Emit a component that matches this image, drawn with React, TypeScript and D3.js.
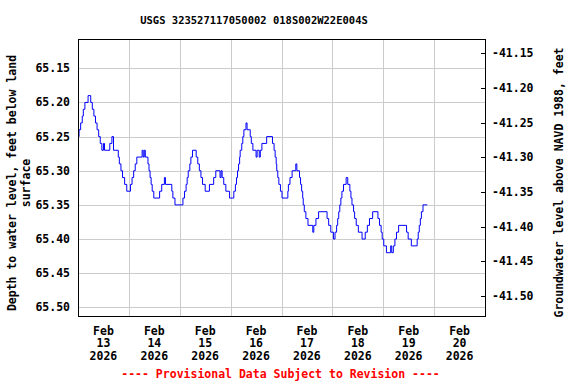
import React from 'react';
import * as d3 from 'd3';

const title = 'USGS 323527117050002 018S002W22E004S';
const leftLabel = ['Depth to water level, feet below land', 'surface'];
const rightLabel = 'Groundwater level above NAVD 1988, feet';
const footer = '---- Provisional Data Subject to Revision ----';

// hours after 2026-02-13 00:00 where the reading changes, and the new reading
const hours = [
  0, 0.5, 1.25, 2, 2.5, 3.25, 4.75, 6, 6.75, 7.5, 8.25, 9, 9.75, 10.5, 11.25, 12, 12.5, 15, 16, 16.75,
  19, 19.5, 20.25, 21, 22, 23, 24.75, 25.5, 26.25, 27, 27.75, 30.25, 30.75, 31.25, 31.75, 33, 33.5, 34, 34.5, 35,
  35.75, 38.5, 39.5, 40.75, 41.25, 44.25, 44.75, 45.75, 46.75, 49.5, 50.25, 51, 51.5, 52, 52.75, 53.25, 54, 55.75, 56.5, 57.25,
  58, 58.75, 60, 62, 64, 65, 67, 67.5, 68, 68.75, 69.75, 71.5, 73.5, 74.25, 74.75, 75.25, 75.75, 76.25, 76.5, 77.25,
  77.75, 78.25, 79.25, 79.75, 81.25, 81.75, 82.5, 84, 84.5, 85.5, 86, 86.75, 89, 91.75, 92.5, 93, 93.5, 93.75, 94.25, 94.75,
  95.5, 96.25, 99, 99.25, 100, 101, 102.75, 103.25, 104.5, 105, 105.5, 106, 106.25, 106.75, 107.5, 108.5, 110.75, 111.25, 112.25, 113.5,
  117.5, 118.25, 119.25, 120.5, 121.25, 122, 122.5, 123, 123.5, 124, 124.5, 125.25, 126.5, 127.25, 128.25, 128.75, 129.25, 130, 130.5, 131.25,
  132.25, 134, 135.5, 136.5, 137.5, 139, 141.5, 142.25, 143, 143.5, 144.25, 145.5, 147.5, 148, 148.75, 149.5, 150.25, 151.25, 155, 155.75,
  157.25, 160, 160.5, 161, 161.5, 162, 162.75, 164.75,
];
const depths = [
  65.25, 65.24, 65.23, 65.22, 65.21, 65.20, 65.19, 65.20, 65.21, 65.22, 65.23, 65.24, 65.25, 65.26, 65.27, 65.26, 65.27, 65.26, 65.25, 65.27,
  65.28, 65.29, 65.30, 65.31, 65.32, 65.33, 65.32, 65.31, 65.30, 65.29, 65.28, 65.27, 65.28, 65.27, 65.28, 65.29, 65.30, 65.31, 65.32, 65.33,
  65.34, 65.33, 65.32, 65.31, 65.32, 65.33, 65.34, 65.35, 65.35, 65.34, 65.33, 65.32, 65.31, 65.30, 65.29, 65.28, 65.27, 65.28, 65.29, 65.30,
  65.31, 65.32, 65.33, 65.32, 65.31, 65.30, 65.31, 65.30, 65.31, 65.32, 65.33, 65.34, 65.33, 65.32, 65.31, 65.30, 65.29, 65.28, 65.27, 65.26,
  65.25, 65.24, 65.23, 65.24, 65.25, 65.26, 65.27, 65.28, 65.27, 65.28, 65.27, 65.26, 65.25, 65.26, 65.27, 65.28, 65.29, 65.30, 65.31, 65.32,
  65.33, 65.34, 65.33, 65.32, 65.31, 65.30, 65.29, 65.30, 65.31, 65.32, 65.33, 65.34, 65.35, 65.36, 65.37, 65.38, 65.39, 65.38, 65.37, 65.36,
  65.37, 65.38, 65.39, 65.40, 65.39, 65.38, 65.37, 65.36, 65.35, 65.34, 65.33, 65.32, 65.31, 65.32, 65.33, 65.34, 65.35, 65.36, 65.37, 65.38,
  65.39, 65.40, 65.39, 65.38, 65.37, 65.36, 65.37, 65.38, 65.39, 65.40, 65.41, 65.42, 65.41, 65.42, 65.41, 65.40, 65.39, 65.38, 65.39, 65.40,
  65.41, 65.40, 65.39, 65.38, 65.37, 65.36, 65.35, 65.35,
];

const depthTicks = [65.15, 65.2, 65.25, 65.3, 65.35, 65.4, 65.45, 65.5];
const elevTicks = [-41.15, -41.2, -41.25, -41.3, -41.35, -41.4, -41.45, -41.5];
const days = ['13', '14', '15', '16', '17', '18', '19', '20'];

const W = 576;
const H = 384;
const left = 78;
const right = 485;
const top = 39;
const bottom = 316;
const font = '"DejaVu Sans Mono", monospace';

const App = () => {
  const t0 = new Date(2026, 1, 13);
  const t1 = new Date(2026, 1, 21);
  const x = d3.scaleTime().domain([t0, t1]).range([left, right]);
  const y = d3.scaleLinear().domain([65.1071, 65.5127]).range([top, bottom]);
  const yR = d3.scaleLinear().domain([-41.1291, -41.5289]).range([top, bottom]);

  const pts = hours.map((h, i) => ({ t: d3.timeMinute.offset(t0, Math.round(h * 60)), v: depths[i] }));
  const line = d3.line<{ t: Date; v: number }>()
    .x(d => x(d.t))
    .y(d => y(d.v))
    .curve(d3.curveStepAfter);

  const dayTicks = d3.timeDay.range(t0, t1);

  return (
    <svg width={W} height={H} style={{ position: 'absolute', left: 0, top: 0, background: '#fff' }}
      fontFamily={font} fontWeight="bold" fontSize={11.5}>
      <text x={254} y={20} textAnchor="middle" dominantBaseline="central" fontSize={10.5}>{title}</text>

      {/* grid */}
      {dayTicks.slice(1).map((d, i) => (
        <line key={'v' + i} x1={Math.round(x(d)) + 0.5} x2={Math.round(x(d)) + 0.5} y1={top} y2={bottom} stroke="#cccccc" />
      ))}
      {depthTicks.map((v, i) => (
        <line key={'h' + i} x1={left} x2={right} y1={Math.round(y(v)) + 0.5} y2={Math.round(y(v)) + 0.5} stroke="#cccccc" />
      ))}

      <path d={line(pts) || ''} fill="none" stroke="#0000ff" strokeWidth={1} />

      <rect x={left + 0.5} y={top + 0.5} width={right - left} height={bottom - top} fill="none" stroke="#000" />

      {/* left axis */}
      {depthTicks.map((v, i) => (
        <text key={'l' + i} x={70} y={y(v)} textAnchor="end" dominantBaseline="central">{v.toFixed(2)}</text>
      ))}
      {/* right axis */}
      {elevTicks.map((v, i) => (
        <g key={'r' + i}>
          <line x1={right - 4} x2={right} y1={Math.round(yR(v)) + 0.5} y2={Math.round(yR(v)) + 0.5} stroke="#000" />
          <text x={492} y={yR(v)} dominantBaseline="central">{v.toFixed(2)}</text>
        </g>
      ))}

      {/* date labels at noon */}
      {dayTicks.map((d, i) => {
        const cx = x(d3.timeHour.offset(d, 12));
        return (
          <text key={'d' + i} x={cx} textAnchor="middle" dominantBaseline="central">
            <tspan x={cx} y={330.7}>Feb</tspan>
            <tspan x={cx} y={343.3}>{days[i]}</tspan>
            <tspan x={cx} y={355.9}>2026</tspan>
          </text>
        );
      })}

      <text transform="translate(12,183) rotate(-90)" textAnchor="middle" dominantBaseline="central">{leftLabel[0]}</text>
      <text transform="translate(26,183) rotate(-90)" textAnchor="middle" dominantBaseline="central">{leftLabel[1]}</text>
      <text transform="translate(559,182.5) rotate(-90)" textAnchor="middle" dominantBaseline="central">{rightLabel}</text>

      <text x={280.5} y={374.3} textAnchor="middle" dominantBaseline="central" fill="#ff0000">{footer}</text>
    </svg>
  );
};

export default App;
